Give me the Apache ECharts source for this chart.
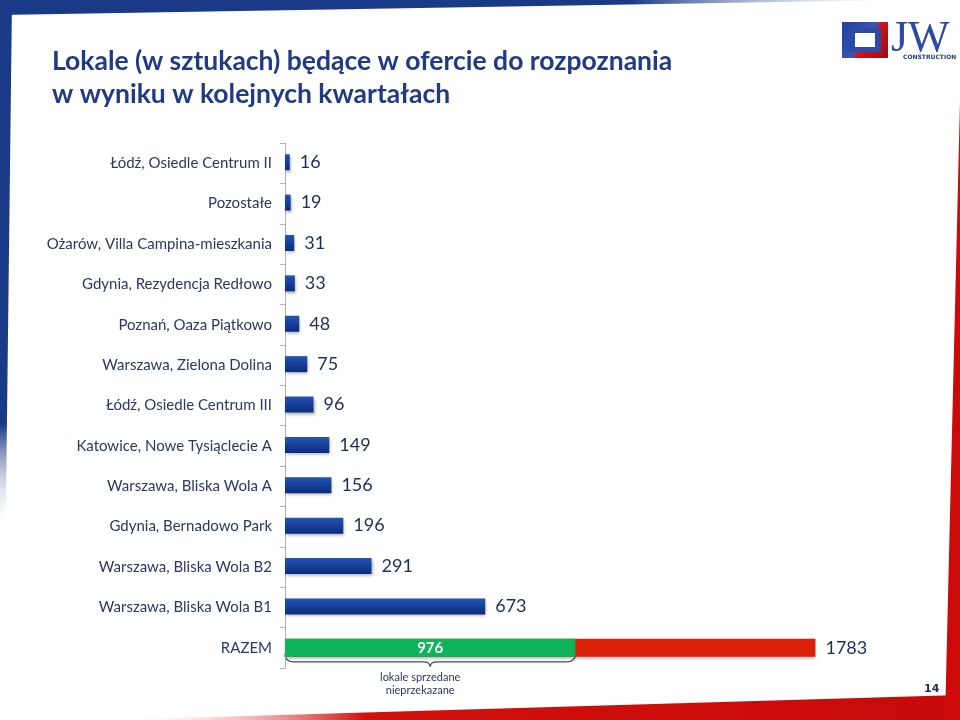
<!DOCTYPE html>
<html>
<head>
<meta charset="utf-8">
<script src="https://cdn.jsdelivr.net/npm/echarts@6/dist/echarts.min.js"></script>
<style>
html,body{margin:0;padding:0;background:#fff;}
#chart{width:960px;height:720px;}
</style>
</head>
<body>
<div id="chart"></div>
<script>
var categories = [
  'Łódź, Osiedle Centrum II',
  'Pozostałe',
  'Ożarów, Villa Campina-mieszkania',
  'Gdynia, Rezydencja Redłowo',
  'Poznań, Oaza Piątkowo',
  'Warszawa, Zielona Dolina',
  'Łódź, Osiedle Centrum III',
  'Katowice, Nowe Tysiąclecie A',
  'Warszawa, Bliska Wola A',
  'Gdynia, Bernadowo Park',
  'Warszawa, Bliska Wola B2',
  'Warszawa, Bliska Wola B1',
  'RAZEM'
];
var offerValues = [16, 19, 31, 33, 48, 75, 96, 149, 156, 196, 291, 673, '-'];
var totalValues = ['-', '-', '-', '-', '-', '-', '-', '-', '-', '-', '-', '-', 1783];
var soldValues  = ['-', '-', '-', '-', '-', '-', '-', '-', '-', '-', '-', '-', 976];
var titleLines = ['Lokale (w sztukach) będące w ofercie do rozpoznania', 'w wyniku w kolejnych kwartałach'];
var braceText = 'lokale sprzedane\nnieprzekazane';

var navy = '#1f2c5e';
var font = 'Lato';

var chart = echarts.init(document.getElementById('chart'), null, {renderer: 'canvas'});

var blueGrad = new echarts.graphic.LinearGradient(0, 0, 0, 1, [
  {offset: 0, color: '#2455b4'},
  {offset: 1, color: '#0a2b7c'}
]);

var option = {
  backgroundColor: '#ffffff',
  animation: false,
  grid: {left: 285, right: 80, top: 143, bottom: 52, containLabel: false},
  xAxis: {
    type: 'value', min: 0, max: 2000, show: false
  },
  yAxis: {
    type: 'category',
    inverse: true,
    data: categories,
    axisLine: {show: true, lineStyle: {color: '#b0b0b0', width: 1}},
    axisTick: {show: true, length: 5, lineStyle: {color: '#b0b0b0'}},
    axisLabel: {color: '#2b3768', fontSize: 15, fontFamily: font, margin: 13}
  },
  series: [
    {
      name: 'offer', type: 'bar', data: offerValues, barWidth: 16, barGap: '-100%',
      itemStyle: {color: blueGrad, shadowBlur: 3, shadowOffsetX: 1, shadowOffsetY: 2, shadowColor: 'rgba(0,0,0,0.3)'},
      label: {show: true, position: 'right', distance: 10, color: navy, fontSize: 18, fontFamily: font}
    },
    {
      name: 'total', type: 'bar', data: totalValues, barWidth: 18, barGap: '-100%',
      itemStyle: {color: '#dc2108', shadowBlur: 3, shadowOffsetY: 2, shadowColor: 'rgba(0,0,0,0.3)'},
      label: {show: true, position: 'right', distance: 10, color: navy, fontSize: 18, fontFamily: font}
    },
    {
      name: 'sold', type: 'bar', data: soldValues, barWidth: 18, barGap: '-100%',
      itemStyle: {color: '#0db45a'},
      label: {show: true, position: 'inside', color: '#ffffff', fontSize: 15, fontWeight: 'bold', fontFamily: font}
    }
  ]
};
chart.setOption(option);

// Brace under sold bar
var p0 = chart.convertToPixel({gridIndex: 0}, [0, 'RAZEM']);
var p1 = chart.convertToPixel({gridIndex: 0}, [soldValues[12], 'RAZEM']);
var x0 = p0[0], x1 = p1[0], yb = p0[1] + 8, xm = (x0 + x1) / 2;
var braceStyle = {fill: null, stroke: '#3a4a7a', lineWidth: 1.2};
var ym = yb + 6;

chart.setOption({
  graphic: [
    // top blue band
    {type: 'polygon', shape: {points: [[0, 0], [900, 0], [0, 15]]}, silent: true,
      style: {fill: new echarts.graphic.LinearGradient(0, 0, 1, 0, [
        {offset: 0, color: '#1a3a88'}, {offset: 0.7, color: '#1a3a88'}, {offset: 1, color: 'rgba(200,205,215,0)'}])}},
    // left blue band
    {type: 'polygon', shape: {points: [[0, 0], [12, 0], [6, 500], [0, 530]]}, silent: true,
      style: {fill: new echarts.graphic.LinearGradient(0, 0, 0, 1, [
        {offset: 0, color: '#1a3a88'}, {offset: 0.8, color: '#1a3a88'}, {offset: 1, color: 'rgba(255,255,255,0)'}])}},
    // bottom red band
    {type: 'polygon', shape: {points: [[110, 720], [960, 720], [960, 695]]}, silent: true,
      style: {fill: new echarts.graphic.LinearGradient(0, 0, 1, 0, [
        {offset: 0, color: 'rgba(255,255,255,0)'}, {offset: 0.3, color: '#d2100c'}, {offset: 1, color: '#c80a0a'}])}},
    // right red band
    {type: 'polygon', shape: {points: [[961, 60], [961, 720], [945, 720]]}, silent: true,
      style: {fill: '#cc0a0a'}},
    // title
    {type: 'text', x: 52, y: 45, silent: true,
      style: {text: titleLines.join('\n'), fill: '#1f3b85', font: 'bold 26.5px Lato', lineHeight: 33}},
    // logo
    {type: 'rect', shape: {x: 842, y: 22, width: 46, height: 36}, silent: true,
      style: {fill: new echarts.graphic.LinearGradient(0, 0, 1, 1, [
        {offset: 0, color: '#1f3f9a'}, {offset: 0.5, color: '#3a56b0'}, {offset: 0.55, color: '#d0141c'}, {offset: 1, color: '#a00a10'}])}},
    {type: 'rect', shape: {x: 849, y: 28, width: 32, height: 24}, silent: true, style: {fill: '#2d4aa8'}},
    {type: 'rect', shape: {x: 855, y: 33, width: 20, height: 14}, silent: true, style: {fill: '#ffffff'}},
    {type: 'text', x: 891, y: 17, silent: true,
      style: {text: 'JW', fill: '#2a4aa8', font: '44px "Liberation Serif"'}},
    {type: 'text', x: 903, y: 54, silent: true,
      style: {text: 'CONSTRUCTION', fill: '#1f3b85', font: 'bold 6px "DejaVu Sans"'}},
    // brace
    {type: 'bezierCurve', silent: true, shape: {x1: x0, y1: yb - 2, cpx1: x0, cpy1: ym, x2: x0 + 8, y2: ym}, style: braceStyle},
    {type: 'line', silent: true, shape: {x1: x0 + 8, y1: ym, x2: xm - 7, y2: ym}, style: braceStyle},
    {type: 'bezierCurve', silent: true, shape: {x1: xm - 7, y1: ym, cpx1: xm, cpy1: ym, x2: xm, y2: ym + 5}, style: braceStyle},
    {type: 'bezierCurve', silent: true, shape: {x1: xm, y1: ym + 5, cpx1: xm, cpy1: ym, x2: xm + 7, y2: ym}, style: braceStyle},
    {type: 'line', silent: true, shape: {x1: xm + 7, y1: ym, x2: x1 - 8, y2: ym}, style: braceStyle},
    {type: 'bezierCurve', silent: true, shape: {x1: x1 - 8, y1: ym, cpx1: x1, cpy1: ym, x2: x1, y2: yb - 2}, style: braceStyle},
    {type: 'text', x: xm - 10, y: ym + 9, silent: true,
      style: {text: braceText, fill: '#2b3768', font: '11px Lato', align: 'center', lineHeight: 13}},
    // page number
    {type: 'text', x: 924, y: 684, silent: true,
      style: {text: '14', fill: '#1f2c5e', font: 'bold 11px "DejaVu Sans"'}}
  ]
});
</script>
</body>
</html>
